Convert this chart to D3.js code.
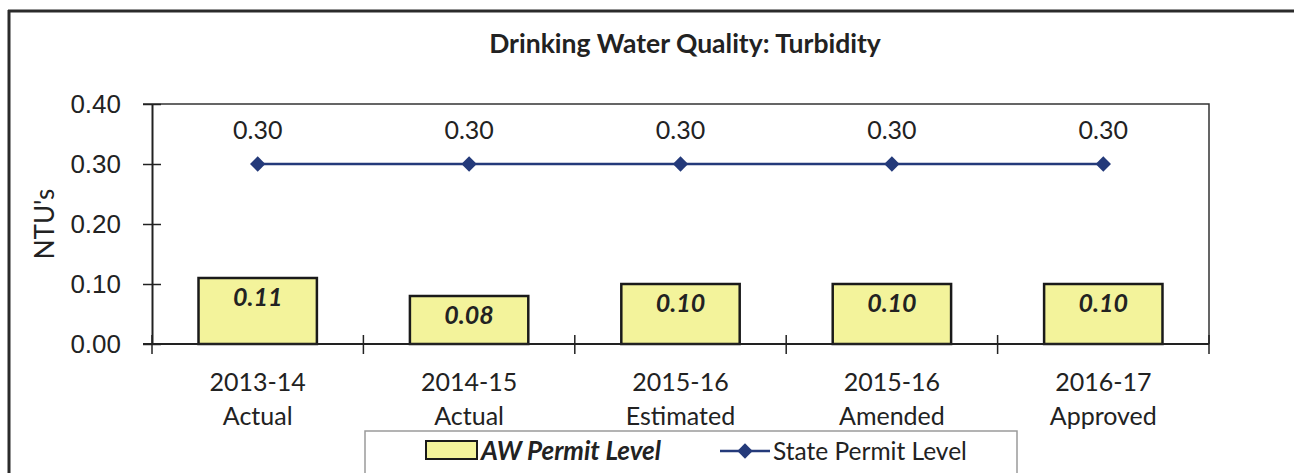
<!DOCTYPE html>
<html>
<head>
<meta charset="utf-8">
<script src="https://cdn.jsdelivr.net/npm/d3@7"></script>
<style>
  body { margin: 0; background: #fff; }
  svg { display: block; font-family: Lato, "Open Sans", sans-serif; }
</style>
</head>
<body>
<svg id="chart" width="1294" height="473"></svg>
<script>
// chart data
const categories = ["2013-14|Actual", "2014-15|Actual", "2015-16|Estimated",
  "2015-16|Amended", "2016-17|Approved"];
const awPermit = [0.11, 0.08, 0.10, 0.10, 0.10];
const statePermit = [0.30, 0.30, 0.30, 0.30, 0.30];
const yTicks = [0, 0.1, 0.2, 0.3, 0.4];

const svg = d3.select("#chart");
const margin = {top: 104, right: 85, bottom: 129, left: 152};
const width = 1294, height = 473;

const x = d3.scaleBand()
  .domain(categories)
  .range([margin.left, width - margin.right])
  .paddingInner(0.44)
  .paddingOuter(0.22);

const y = d3.scaleLinear()
  .domain([0, 0.4])
  .range([height - margin.bottom, margin.top]);

const ink = "#222";
const navy = "#243a7a";

// outer frame (top and left edge of the scanned box)
svg.append("line").attr("x1", 9).attr("x2", 9).attr("y1", 10).attr("y2", height)
  .attr("stroke", "#2b2b2b").attr("stroke-width", 3);
svg.append("line").attr("x1", 8).attr("x2", width).attr("y1", 11).attr("y2", 11)
  .attr("stroke", "#2b2b2b").attr("stroke-width", 3);

// title
svg.append("text")
  .attr("x", 685).attr("y", 53)
  .attr("text-anchor", "middle")
  .attr("font-size", 26.5).attr("font-weight", "bold")
  .attr("fill", ink)
  .text("Drinking Water Quality: Turbidity");

// plot area border (top and right)
const x0 = margin.left, x1 = width - margin.right;
svg.append("path")
  .attr("d", `M${x0 - 9},${y(0.4)}H${x1}V${y(0)}`)
  .attr("fill", "none").attr("stroke", "#333").attr("stroke-width", 1.5);

// y axis
const yAxis = (g) => g
  .attr("transform", `translate(${x0},0)`)
  .call(d3.axisLeft(y).tickValues(yTicks).tickFormat(d3.format(".2f"))
    .tickSize(0).tickPadding(31))
  .call((g) => g.select(".domain").attr("stroke", ink).attr("stroke-width", 2))
  .call((g) => g.selectAll(".tick line")
    .attr("x1", -9).attr("x2", 9).attr("stroke", ink).attr("stroke-width", 1.5))
  .call((g) => g.selectAll(".tick text")
    .attr("font-size", 26).attr("fill", ink).attr("font-family", null));
svg.append("g").call(yAxis);

svg.append("text")
  .attr("transform", `translate(54,${y(0.2)}) rotate(-90)`)
  .attr("text-anchor", "middle")
  .attr("font-size", 26).attr("fill", ink)
  .text("NTU's");

// bars
svg.append("g").selectAll("rect")
  .data(awPermit)
  .join("rect")
  .attr("x", (d, i) => x(categories[i]))
  .attr("y", (d) => y(d))
  .attr("width", x.bandwidth())
  .attr("height", (d) => y(0) - y(d))
  .attr("fill", "#f3f39b")
  .attr("stroke", "#1a1a1a")
  .attr("stroke-width", 2.5);

svg.append("g").selectAll("text")
  .data(awPermit)
  .join("text")
  .attr("x", (d, i) => x(categories[i]) + x.bandwidth() / 2)
  .attr("y", (d) => y(d) + 28)
  .attr("text-anchor", "middle")
  .attr("font-size", 25).attr("font-weight", "bold").attr("font-style", "italic")
  .attr("fill", ink)
  .text((d) => d.toFixed(2));

// x axis: baseline with crossing ticks at category boundaries
const xAxis = svg.append("g");
xAxis.append("line")
  .attr("x1", x0 - 9).attr("x2", x1).attr("y1", y(0)).attr("y2", y(0))
  .attr("stroke", ink).attr("stroke-width", 2);
xAxis.selectAll("line.tick")
  .data(d3.range(categories.length + 1))
  .join("line")
  .attr("class", "tick")
  .attr("x1", (i) => x0 + i * x.step()).attr("x2", (i) => x0 + i * x.step())
  .attr("y1", y(0) - 9).attr("y2", y(0) + 10)
  .attr("stroke", ink).attr("stroke-width", 1.5);
const catLabels = xAxis.selectAll("text")
  .data(categories)
  .join("text")
  .attr("x", (d) => x(d) + x.bandwidth() / 2)
  .attr("text-anchor", "middle")
  .attr("font-size", 25).attr("fill", ink);
catLabels.append("tspan")
  .attr("x", (d) => x(d) + x.bandwidth() / 2)
  .attr("y", 391)
  .text((d) => d.split("|")[0]);
catLabels.append("tspan")
  .attr("x", (d) => x(d) + x.bandwidth() / 2)
  .attr("y", 425)
  .text((d) => d.split("|")[1]);

// state permit line
const line = d3.line()
  .x((d, i) => x(categories[i]) + x.bandwidth() / 2)
  .y((d) => y(d));
svg.append("path")
  .datum(statePermit)
  .attr("d", line)
  .attr("fill", "none").attr("stroke", navy).attr("stroke-width", 2.5);

const diamond = d3.symbol().type(d3.symbolDiamond2).size(150);
svg.append("g").selectAll("path")
  .data(statePermit)
  .join("path")
  .attr("transform", (d, i) =>
    `translate(${x(categories[i]) + x.bandwidth() / 2},${y(d)})`)
  .attr("d", diamond)
  .attr("fill", navy);

svg.append("g").selectAll("text")
  .data(statePermit)
  .join("text")
  .attr("x", (d, i) => x(categories[i]) + x.bandwidth() / 2)
  .attr("y", (d) => y(d) - 25)
  .attr("text-anchor", "middle")
  .attr("font-size", 25).attr("fill", ink)
  .text((d) => d.toFixed(2));

// legend
const legend = svg.append("g");
legend.append("rect")
  .attr("x", 365).attr("y", 431).attr("width", 652).attr("height", 60)
  .attr("fill", "#fff").attr("stroke", "#9a9a9a").attr("stroke-width", 1.5);
legend.append("rect")
  .attr("x", 426).attr("y", 441).attr("width", 51).attr("height", 18)
  .attr("fill", "#f3f39b").attr("stroke", "#1a1a1a").attr("stroke-width", 2);
legend.append("text")
  .attr("x", 481).attr("y", 460)
  .attr("font-size", 26).attr("font-weight", "bold").attr("font-style", "italic")
  .attr("fill", ink)
  .text("AW Permit Level");
legend.append("line")
  .attr("x1", 720).attr("x2", 770).attr("y1", 451).attr("y2", 451)
  .attr("stroke", navy).attr("stroke-width", 2.5);
legend.append("path")
  .attr("transform", "translate(745,451)")
  .attr("d", diamond)
  .attr("fill", navy);
legend.append("text")
  .attr("x", 773).attr("y", 460)
  .attr("font-size", 24.5).attr("fill", ink)
  .text("State Permit Level");
</script>
</body>
</html>
